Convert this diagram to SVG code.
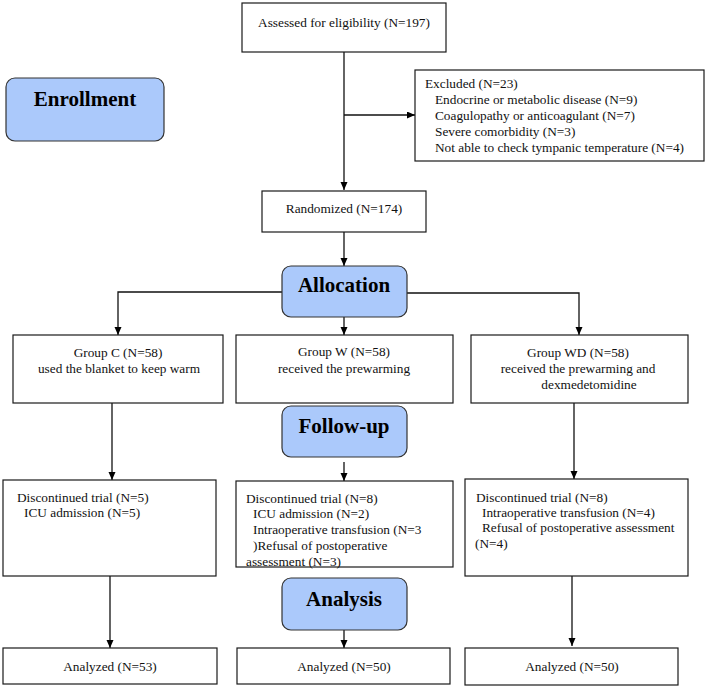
<svg xmlns="http://www.w3.org/2000/svg" width="708" height="689" viewBox="0 0 708 689">
<style>
.box{fill:#fff;stroke:#1a1a1a;stroke-width:1.2}
.phase{fill:#abc9fb;stroke:#333;stroke-width:1.2}
text{font-family:"Liberation Serif","Times New Roman",serif;font-size:13.3px;fill:#111}
.c{text-anchor:middle}
.ph{font-size:21px;font-weight:bold;text-anchor:middle;fill:#000}
.ln{fill:none;stroke:#111;stroke-width:1.3}
</style>
<defs>
<marker id="ar" markerUnits="userSpaceOnUse" markerWidth="9" markerHeight="8" refX="8" refY="3.5" orient="auto">
<path d="M0,0 L8,3.5 L0,7 z" fill="#000"/>
</marker>
</defs>
<rect width="708" height="689" fill="#fff"/>
<g id="connectors">
<line class="ln" x1="344" y1="52" x2="344" y2="190" marker-end="url(#ar)"/>
<line class="ln" x1="344" y1="115" x2="415" y2="115" marker-end="url(#ar)"/>
<line class="ln" x1="344" y1="232" x2="344" y2="266" marker-end="url(#ar)"/>
<polyline class="ln" points="282,292 118,292 118,335" marker-end="url(#ar)"/>
<polyline class="ln" points="407,293 579,293 579,335" marker-end="url(#ar)"/>
<line class="ln" x1="344" y1="317" x2="344" y2="335" marker-end="url(#ar)"/>
<line class="ln" x1="112" y1="403" x2="112" y2="480" marker-end="url(#ar)"/>
<line class="ln" x1="344" y1="462" x2="344" y2="481" marker-end="url(#ar)"/>
<line class="ln" x1="574" y1="403" x2="574" y2="479" marker-end="url(#ar)"/>
<line class="ln" x1="110" y1="576" x2="110" y2="648" marker-end="url(#ar)"/>
<line class="ln" x1="344" y1="630" x2="344" y2="648" marker-end="url(#ar)"/>
<line class="ln" x1="572" y1="576" x2="572" y2="646" marker-end="url(#ar)"/>
</g>
<g id="enrollment"><rect class="phase" x="6" y="78" width="158" height="63" rx="9"/><text class="ph" x="85" y="106">Enrollment</text></g>
<g id="assessed"><rect class="box" x="242" y="3" width="204" height="49"/><text class="c" x="344" y="27">Assessed for eligibility (N=197)</text></g>
<g id="excluded"><rect class="box" x="415" y="70" width="289" height="91"/>
<text x="425" y="88">Excluded (N=23)</text>
<text x="435" y="104">Endocrine or metabolic disease (N=9)</text>
<text x="435" y="120">Coagulopathy or anticoagulant (N=7)</text>
<text x="435" y="136">Severe comorbidity (N=3)</text>
<text x="435" y="152">Not able to check tympanic temperature (N=4)</text></g>
<g id="randomized"><rect class="box" x="262" y="191" width="164" height="41"/><text class="c" x="344" y="213">Randomized (N=174)</text></g>
<g id="allocation"><rect class="phase" x="282" y="266" width="125" height="51" rx="9"/><text class="ph" x="344" y="292">Allocation</text></g>
<g id="groupC"><rect class="box" x="13" y="335" width="210" height="68"/><text class="c" x="118" y="357">Group C (N=58)</text><text class="c" x="119" y="373">used the blanket to keep warm</text></g>
<g id="groupW"><rect class="box" x="236" y="335" width="217" height="68"/><text class="c" x="344" y="356">Group W (N=58)</text><text class="c" x="344" y="373">received the prewarming</text></g>
<g id="groupWD"><rect class="box" x="471" y="335" width="217" height="68"/><text class="c" x="578" y="357">Group WD (N=58)</text><text class="c" x="578" y="373">received the prewarming and</text><text class="c" x="589" y="389">dexmedetomidine</text></g>
<g id="followup"><rect class="phase" x="282" y="406" width="125" height="51" rx="9"/><text class="ph" x="344" y="433">Follow-up</text></g>
<g id="discC"><rect class="box" x="3" y="480" width="213" height="96"/><text x="17" y="502">Discontinued trial (N=5)</text><text x="24" y="517">ICU admission (N=5)</text></g>
<g id="discW"><rect class="box" x="236" y="481" width="217" height="86"/>
<text x="246" y="503">Discontinued trial (N=8)</text>
<text x="253" y="518">ICU admission (N=2)</text>
<text x="253" y="534">Intraoperative transfusion (N=3</text>
<text x="253" y="550">)Refusal of postoperative</text>
<text x="246" y="566">assessment (N=3)</text></g>
<g id="discWD"><rect class="box" x="465" y="479" width="223" height="97"/>
<text x="476" y="502">Discontinued trial (N=8)</text>
<text x="482" y="517">Intraoperative transfusion (N=4)</text>
<text x="482" y="532">Refusal of postoperative assessment</text>
<text x="475" y="548">(N=4)</text></g>
<g id="analysis"><rect class="phase" x="282" y="578" width="125" height="52" rx="9"/><text class="ph" x="344" y="606">Analysis</text></g>
<g id="anC"><rect class="box" x="3" y="648" width="214" height="36"/><text class="c" x="110" y="671">Analyzed (N=53)</text></g>
<g id="anW"><rect class="box" x="237" y="648" width="213" height="36"/><text class="c" x="344" y="671">Analyzed (N=50)</text></g>
<g id="anWD"><rect class="box" x="465" y="648" width="213" height="37"/><text class="c" x="572" y="671">Analyzed (N=50)</text></g>
</svg>
